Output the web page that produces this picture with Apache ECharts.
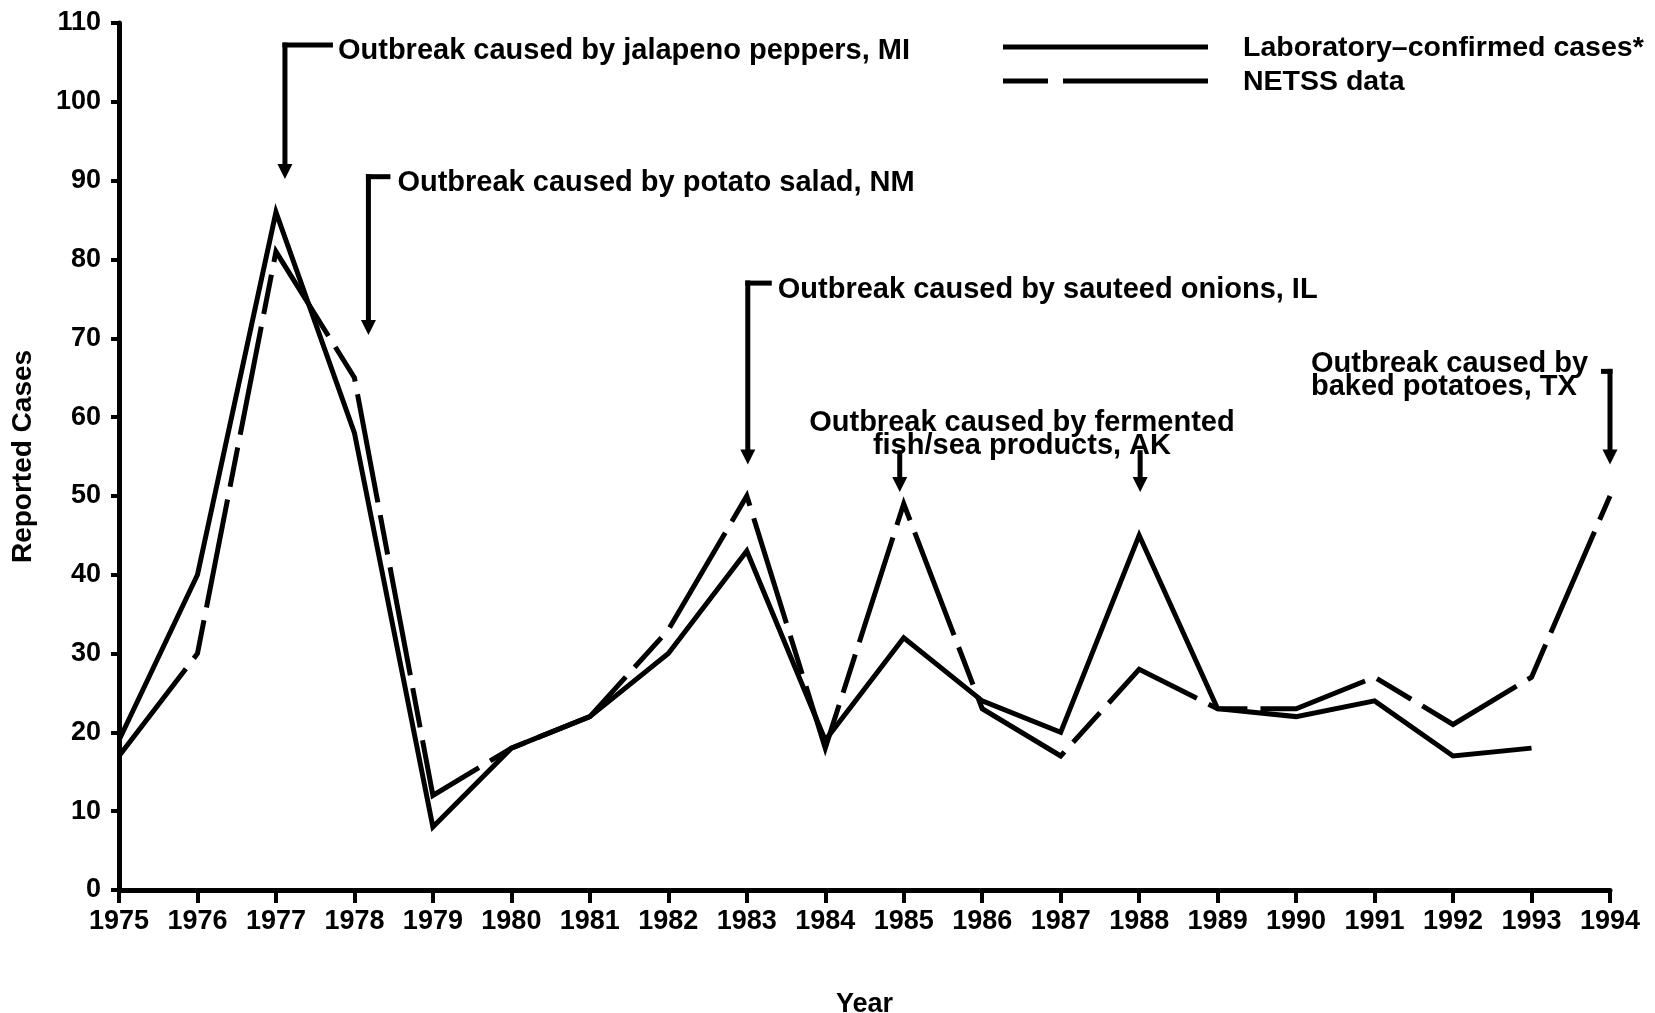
<!DOCTYPE html>
<html>
<head>
<meta charset="utf-8">
<script src="https://cdn.jsdelivr.net/npm/echarts@6/dist/echarts.min.js"></script>
<style>
  html, body { margin: 0; padding: 0; background: #fff; }
  #chart { width: 1655px; height: 1013px; }
</style>
</head>
<body>
<div id="chart"></div>
<script>
const years = ['1975','1976','1977','1978','1979','1980','1981','1982','1983','1984',
               '1985','1986','1987','1988','1989','1990','1991','1992','1993','1994'];
const labCases  = [19, 40, 86, 58, 8, 18, 22, 30, 43, 19, 32, 24, 20, 45, 23, 22, 24, 17, 18, null];
const netssData = [17, 30, 81, 65, 12, 18, 22, 33, 50, 18, 49, 23, 17, 28, 23, 23, 27, 21, 27, 50];
const seriesNames = ['Laboratory\u2013confirmed cases*', 'NETSS data'];
const yTicks = { min: 0, max: 110, interval: 10 };

const FONT = '"Liberation Sans", Arial, Helvetica, sans-serif';
const NETSS_DASH = [110, 13, 40, 13];
const chart = echarts.init(document.getElementById('chart'), null, { renderer: 'canvas' });

const option = {
  backgroundColor: '#ffffff',
  animation: false,
  grid: { left: 119, right: 45, top: 23, bottom: 123, containLabel: false, outerBoundsMode: 'none' },
  xAxis: {
    type: 'category',
    data: years,
    boundaryGap: false,
    name: 'Year',
    nameLocation: 'middle',
    nameGap: 101,
    nameTextStyle: { fontFamily: FONT, fontWeight: 'bold', fontSize: 27, color: '#000' },
    axisLine: { lineStyle: { color: '#000', width: 5 } },
    axisTick: { show: true, length: 13, lineStyle: { color: '#000', width: 4 } },
    axisLabel: { interval: 0, margin: 18, fontFamily: FONT, fontWeight: 'bold', fontSize: 27, color: '#000' },
    splitLine: { show: false }
  },
  yAxis: {
    type: 'value',
    min: yTicks.min,
    max: yTicks.max,
    interval: yTicks.interval,
    name: 'Reported Cases',
    nameLocation: 'middle',
    nameGap: 82,
    nameRotate: 90,
    nameTextStyle: { fontFamily: FONT, fontWeight: 'bold', fontSize: 28, color: '#000' },
    axisLine: { show: true, lineStyle: { color: '#000', width: 5 } },
    axisTick: { show: true, length: 8, lineStyle: { color: '#000', width: 4 } },
    axisLabel: { margin: 18, fontFamily: FONT, fontWeight: 'bold', fontSize: 27, color: '#000' },
    splitLine: { show: false }
  },
  series: [
    {
      name: seriesNames[0],
      type: 'line',
      data: labCases,
      symbol: 'none',
      connectNulls: false,
      lineStyle: { color: '#000', width: 5, type: 'solid', join: 'miter' },
      itemStyle: { color: '#000' }
    },
    {
      name: seriesNames[1],
      type: 'line',
      data: netssData,
      symbol: 'none',
      lineStyle: { color: '#000', width: 5, type: NETSS_DASH, join: 'miter' },
      itemStyle: { color: '#000' }
    }
  ]
};
chart.setOption(option);

const annotations = [
  { lines: ['Outbreak caused by jalapeno peppers, MI'], year: '1977', dx: 9, top: 107.2, tip: 90.2, arm: 48, side: 'right', textDx: 53, textDy: 6 },
  { lines: ['Outbreak caused by potato salad, NM'], year: '1978', dx: 14, top: 90.5, tip: 70.4, arm: 22, side: 'right', textDx: 29, textDy: 6 },
  { lines: ['Outbreak caused by sauteed onions, IL'], year: '1983', dx: 1, top: 77.0, tip: 54.0, arm: 24, side: 'right', textDx: 30, textDy: 7 },
  { lines: ['Outbreak caused by baked potatoes, TX'], year: '1994', dx: 0, top: 65.8, tip: 54.0, arm: 9, side: 'left', textDx: 0, textDy: 0 }
];

function px(year, value) {
  return chart.convertToPixel({ xAxisIndex: 0, yAxisIndex: 0 }, [years.indexOf(year), value]);
}

const TXT = { fontFamily: FONT, fontWeight: 'bold', fontSize: 29, fill: '#000' };
const graphics = [];
function arrowHead(x, y) {
  return { type: 'polygon', shape: { points: [[x - 7.5, y - 15], [x + 7.5, y - 15], [x, y]] }, style: { fill: '#000' }, z: 100 };
}
function shaft(x1, y1, x2, y2, dash) {
  return { type: 'line', shape: { x1, y1, x2, y2 }, style: { stroke: '#000', lineWidth: 5, lineCap: 'butt', lineDash: dash || null }, z: 100 };
}

annotations.forEach(a => {
  const pTop = px(a.year, a.top);
  const pTip = px(a.year, a.tip);
  const x = pTop[0] + a.dx;
  const yTop = pTop[1], yTip = pTip[1];
  graphics.push(shaft(x, yTop - 2.5, x, yTip - 12));
  graphics.push(arrowHead(x, yTip));
  if (a.side === 'right') {
    graphics.push(shaft(x - 2.5, yTop, x + a.arm, yTop));
    graphics.push({ type: 'text', x: x + a.textDx, y: yTop + a.textDy,
      style: Object.assign({}, TXT, { text: a.lines.join('\n'), textAlign: 'left', textVerticalAlign: 'middle' }), z: 100 });
  } else {
    graphics.push(shaft(x - a.arm, yTop, x + 2.5, yTop));
  }
});

// Baked potatoes text (two lines, left of its bracket)
(function () {
  const p = px('1994', 65.8);
  graphics.push({ type: 'text', x: p[0] - 299, y: p[1] + 4,
    style: Object.assign({}, TXT, { text: 'Outbreak caused by\nbaked potatoes, TX', textAlign: 'left', textVerticalAlign: 'middle', lineHeight: 23 }), z: 100 });
})();

// Fermented fish text centered between two short arrows (1985 and 1988)
(function () {
  const a1 = px('1985', 55.8), t1 = px('1985', 50.5);
  const a2 = px('1988', 55.8), t2 = px('1988', 50.5);
  const x1 = a1[0] - 4, x2 = a2[0] + 1;
  graphics.push(shaft(x1, a1[1], x1, t1[1] - 12));
  graphics.push(arrowHead(x1, t1[1]));
  graphics.push(shaft(x2, a2[1], x2, t2[1] - 12));
  graphics.push(arrowHead(x2, t2[1]));
  const pc = px('1986', 57.8);
  graphics.push({ type: 'text', x: (x1 + x2) / 2 + 2, y: pc[1],
    style: Object.assign({}, TXT, { text: 'Outbreak caused by fermented\nfish/sea products, AK', textAlign: 'center', textVerticalAlign: 'middle', lineHeight: 23 }), z: 100 });
})();

// Legend (drawn as graphics)
const legendItems = [
  { name: seriesNames[0], dash: null, y: 47 },
  { name: seriesNames[1], dash: [45, 15, 150, 0], y: 81 }
];
legendItems.forEach(it => {
  graphics.push(shaft(1003, it.y, 1208, it.y, it.dash));
  graphics.push({ type: 'text', x: 1243, y: it.y + 1,
    style: Object.assign({}, TXT, { text: it.name, fontSize: 28.5, textAlign: 'left', textVerticalAlign: 'middle' }), z: 100 });
});

chart.setOption({ graphic: graphics });
</script>
</body>
</html>
